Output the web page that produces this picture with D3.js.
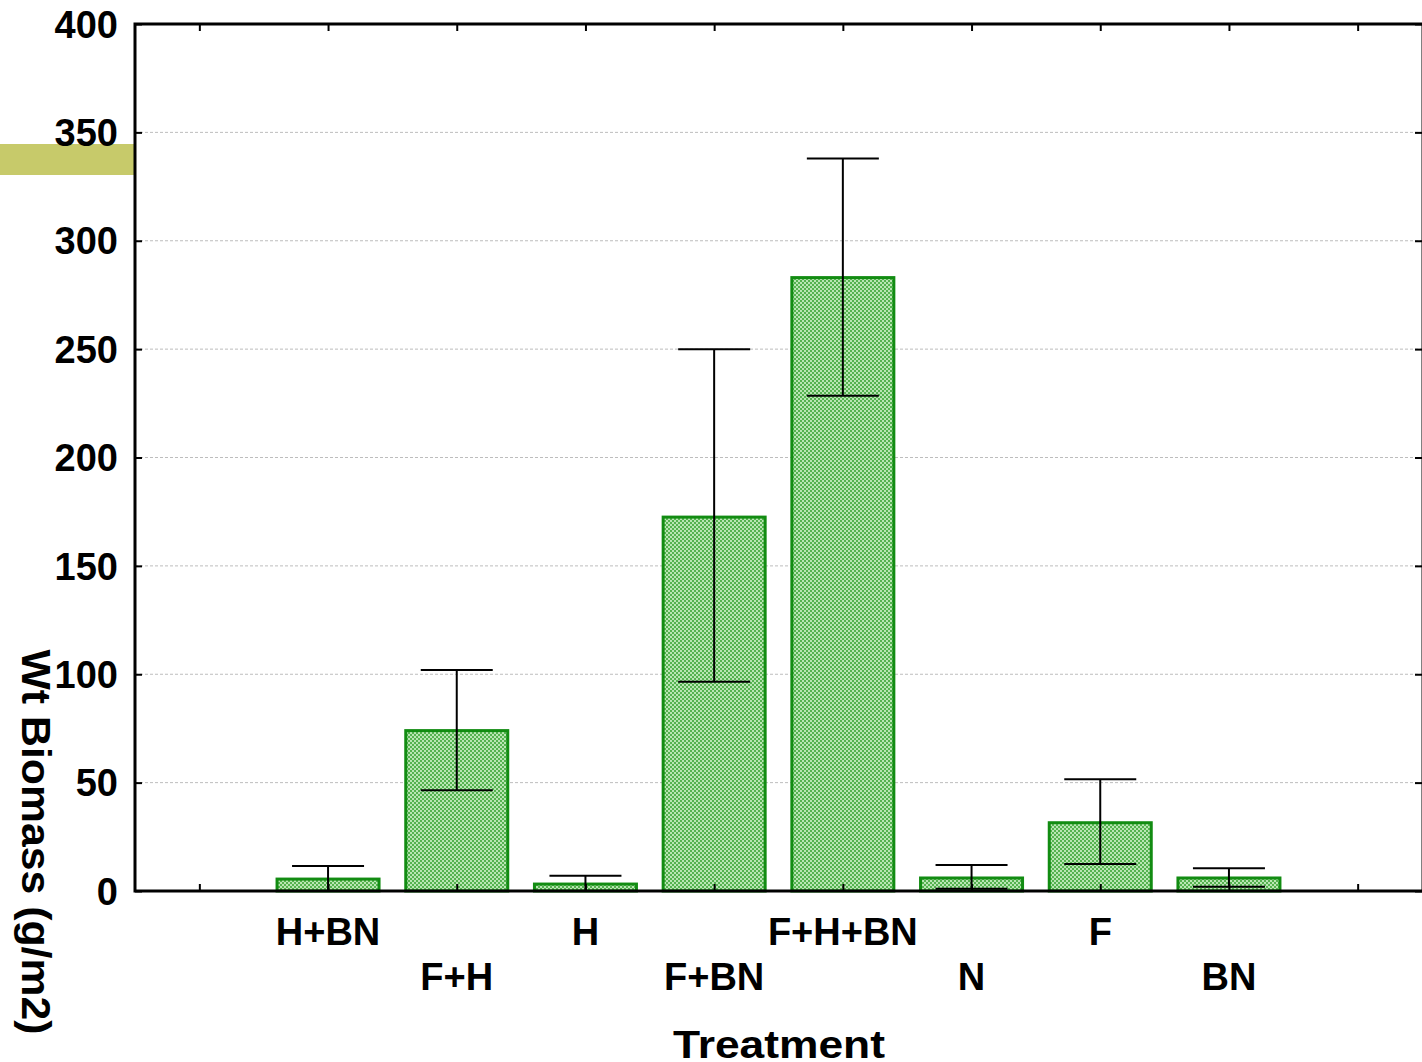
<!DOCTYPE html>
<html>
<head>
<meta charset="utf-8">
<script src="https://cdn.jsdelivr.net/npm/d3@7"></script>
<style>
  html, body { margin: 0; padding: 0; background: #fff; }
  svg { display: block; font-family: 'Liberation Sans', Arial, sans-serif; }
</style>
</head>
<body>
<svg id="chart"></svg>
<script>
const width = 1422
const height = 1062

// data
const treatments = ['H+BN', 'F+H', 'H', 'F+BN', 'F+H+BN', 'N', 'F', 'BN']
const means = [5.5, 74, 3.2, 172.5, 283, 6, 31.5, 6]
const errHigh = [11.5, 102, 7, 250, 338, 12, 51.5, 10.5]
const errLow = [0, 46.5, 0, 96.5, 228.5, 1, 12.5, 2]
const yTicks = [0, 50, 100, 150, 200, 250, 300, 350, 400]

const plot = { left: 135, right: 1422, top: 24, bottom: 891 }

const svg = d3.select('#chart').attr('width', width).attr('height', height)

// patterned fill for the bars
const defs = svg.append('defs')
const pat = defs
  .append('pattern')
  .attr('id', 'checker')
  .attr('width', 4)
  .attr('height', 4)
  .attr('patternUnits', 'userSpaceOnUse')
pat.append('rect').attr('width', 4).attr('height', 4).attr('fill', '#b9e6b3')
pat.append('rect').attr('width', 2).attr('height', 2).attr('fill', '#55b250')
pat.append('rect').attr('x', 2).attr('y', 2).attr('width', 2).attr('height', 2).attr('fill', '#55b250')

// x is a numeric position axis: categories at 1..8, ticks at 0..9
const x = d3.scaleLinear().domain([-0.5, 9.5]).range([plot.left, plot.right])
const y = d3.scaleLinear().domain([0, 400]).range([plot.bottom, plot.top])
const xTickPos = d3.range(0, 10)

// olive highlight at the left edge
svg
  .append('rect')
  .attr('x', 0)
  .attr('y', 144)
  .attr('width', plot.left)
  .attr('height', 31)
  .attr('fill', '#c7ca6a')

// dashed grid
svg
  .append('g')
  .selectAll('line')
  .data(yTicks.filter((d) => d > 0 && d < 400))
  .join('line')
  .attr('x1', plot.left)
  .attr('x2', plot.right)
  .attr('y1', (d) => y(d))
  .attr('y2', (d) => y(d))
  .attr('stroke', '#bdbdbd')
  .attr('stroke-width', 1)
  .attr('stroke-dasharray', '3,2')

// bars
const barW = 102
svg
  .append('g')
  .selectAll('rect')
  .data(treatments)
  .join('rect')
  .attr('x', (d, i) => x(i + 1) - barW / 2)
  .attr('y', (d, i) => y(means[i]))
  .attr('width', barW)
  .attr('height', (d, i) => y(0) - y(means[i]))
  .attr('fill', 'url(#checker)')
  .attr('stroke', '#128c12')
  .attr('stroke-width', 3)

// error bars
const capW = 72
const err = svg.append('g').attr('stroke', '#000').attr('stroke-width', 2)
treatments.forEach((t, i) => {
  const cx = x(i + 1)
  err.append('line').attr('x1', cx).attr('x2', cx).attr('y1', y(errHigh[i])).attr('y2', y(errLow[i]))
  err.append('line').attr('x1', cx - capW / 2).attr('x2', cx + capW / 2).attr('y1', y(errHigh[i])).attr('y2', y(errHigh[i]))
  err.append('line').attr('x1', cx - capW / 2).attr('x2', cx + capW / 2).attr('y1', y(errLow[i])).attr('y2', y(errLow[i]))
})

// frame with inward ticks
const tickLen = 7
const axisLeft = d3.axisRight(y).tickValues(yTicks).tickSize(tickLen).tickFormat('')
const axisRight = d3.axisLeft(y).tickValues(yTicks).tickSize(tickLen).tickFormat('')
const axisTop = d3.axisBottom(x).tickValues(xTickPos).tickSize(tickLen).tickFormat('')
const axisBottom = d3.axisTop(x).tickValues(xTickPos).tickSize(tickLen).tickFormat('')

function styleAxis(g) {
  g.select('.domain').remove()
  g.selectAll('.tick line').attr('stroke', '#000').attr('stroke-width', 2)
}
svg.append('g').attr('transform', `translate(${plot.left},0)`).call(axisLeft).call(styleAxis)
svg.append('g').attr('transform', `translate(${plot.right},0)`).call(axisRight).call(styleAxis)
svg.append('g').attr('transform', `translate(0,${plot.top})`).call(axisTop).call(styleAxis)
svg.append('g').attr('transform', `translate(0,${plot.bottom})`).call(axisBottom).call(styleAxis)

svg
  .append('rect')
  .attr('x', plot.left)
  .attr('y', plot.top)
  .attr('width', plot.right - plot.left + 1)
  .attr('height', plot.bottom - plot.top)
  .attr('fill', 'none')
  .attr('stroke', '#000')
  .attr('stroke-width', 3)

// y tick labels
svg
  .append('g')
  .selectAll('text')
  .data(yTicks)
  .join('text')
  .attr('x', 118)
  .attr('y', (d) => y(d))
  .attr('dy', '0.36em')
  .attr('text-anchor', 'end')
  .attr('font-size', 38)
  .attr('font-weight', 'bold')
  .text((d) => d)

// x tick labels, staggered
svg
  .append('g')
  .selectAll('text')
  .data(treatments)
  .join('text')
  .attr('x', (d, i) => x(i + 1))
  .attr('y', (d, i) => (i % 2 === 0 ? 931 : 976))
  .attr('dy', '0.36em')
  .attr('text-anchor', 'middle')
  .attr('font-size', 38)
  .attr('font-weight', 'bold')
  .text((d) => d)

// axis titles
svg
  .append('text')
  .attr('x', 779)
  .attr('y', 1044)
  .attr('dy', '0.36em')
  .attr('text-anchor', 'middle')
  .attr('font-size', 39)
  .attr('font-weight', 'bold')
  .attr('textLength', 212)
  .attr('lengthAdjust', 'spacingAndGlyphs')
  .text('Treatment')

svg
  .append('text')
  .attr('transform', 'translate(37,842) rotate(90)')
  .attr('dy', '0.36em')
  .attr('text-anchor', 'middle')
  .attr('font-size', 41)
  .attr('font-weight', 'bold')
  .attr('textLength', 385)
  .attr('lengthAdjust', 'spacingAndGlyphs')
  .text('Wt Biomass (g/m2)')
</script>
</body>
</html>
